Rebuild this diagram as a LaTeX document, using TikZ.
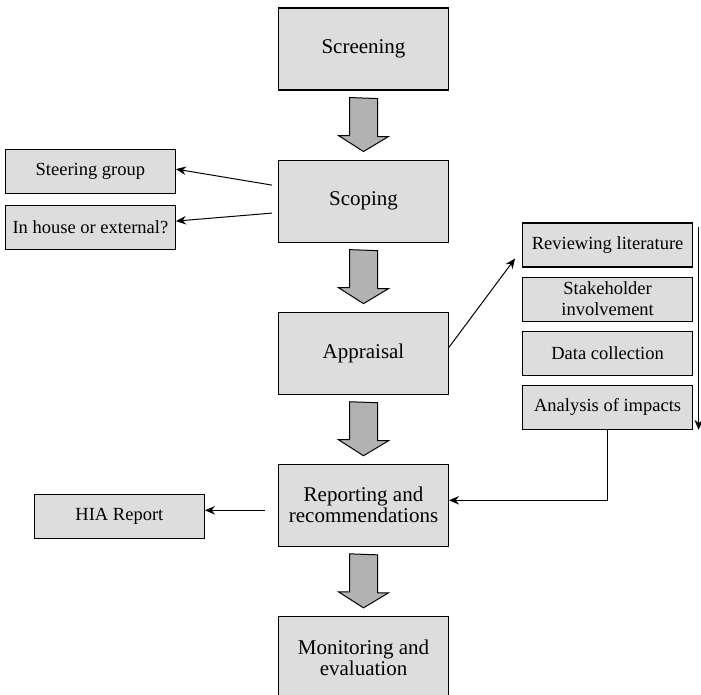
\documentclass[tikz,border=0pt]{standalone}
\usepackage{fontspec}
\setmainfont{Liberation Serif}
\usetikzlibrary{positioning,arrows.meta}
\definecolor{boxgray}{RGB}{221,221,221}
\definecolor{arrowgray}{RGB}{178,178,178}
\begin{document}
\begin{tikzpicture}[x=1pt,y=1pt,node distance=69pt,
    stage/.style={draw,fill=boxgray,line width=1.1pt,minimum width=170pt,minimum height=82pt,inner sep=2pt,align=center,font=\fontsize{21}{21}\selectfont},
    task/.style={draw,fill=boxgray,line width=1.1pt,minimum width=170pt,minimum height=44pt,inner sep=2pt,align=center,font=\fontsize{18.5}{21}\selectfont},
    bigarrow/.style={draw,fill=arrowgray,line width=1pt},
    link/.style={-{Stealth[length=10pt,width=8.5pt]},line width=1pt}]
    \useasboundingbox (0,0) rectangle (701,695);
    % main stages
    \node[stage] (screen) at (363.5,646) {Screening};
    \node[stage,below=of screen] (scope) {Scoping};
    \node[stage,below=of scope] (apprais) {Appraisal};
    \node[stage,below=of apprais] (report) {Reporting and\\recommendations};
    \node[stage,below=of report] (monitor) {Monitoring and\\evaluation};
    % side boxes
    \node[task,left=102pt of scope,yshift=29.5pt] (steer) {Steering group};
    \node[task,left=102pt of scope,yshift=-26pt] (inhouse) {In house or external?};
    \node[task,right=73pt of apprais] (data) {Data collection};
    \node[task,above=9pt of data] (stake) {Stakeholder\\involvement};
    \node[task,above=9pt of stake] (review) {Reviewing literature};
    \node[task,below=9pt of data] (analysis) {Analysis of impacts};
    \node[task,left=73pt of report,yshift=-11pt] (hia) {HIA Report};
    % block arrows between stages
    \foreach \a/\b in {screen/scope,scope/apprais,apprais/report,report/monitor}
        \draw[bigarrow] ([xshift=-14pt,yshift=-7pt]\a.south) -- ++(0,-38) -- ++(-11,0)
            -- ([yshift=8pt]\b.north) -- ++(25,15) -- ++(-11,0) -- ++(0,38) -- cycle;
    % connectors
    \draw[link] ([xshift=-6pt,yshift=16pt]scope.west) -- ([yshift=2.5pt]steer.east);
    \draw[link] ([xshift=-6pt,yshift=-12pt]scope.west) -- ([yshift=6pt]inhouse.east);
    \draw[link] ([yshift=6pt]apprais.east) -- ([shift={(-7pt,9pt)}]review.south west);
    \draw[link] ([shift={(5.5pt,-5pt)}]review.north east) -- ([xshift=5.5pt]analysis.south east);
    \draw[link] (analysis.south) |- ([yshift=5pt]report.east);
    \draw[link] ([xshift=-13pt,yshift=-5pt]report.west) -- ([yshift=6pt]hia.east);
\end{tikzpicture}
\end{document}
